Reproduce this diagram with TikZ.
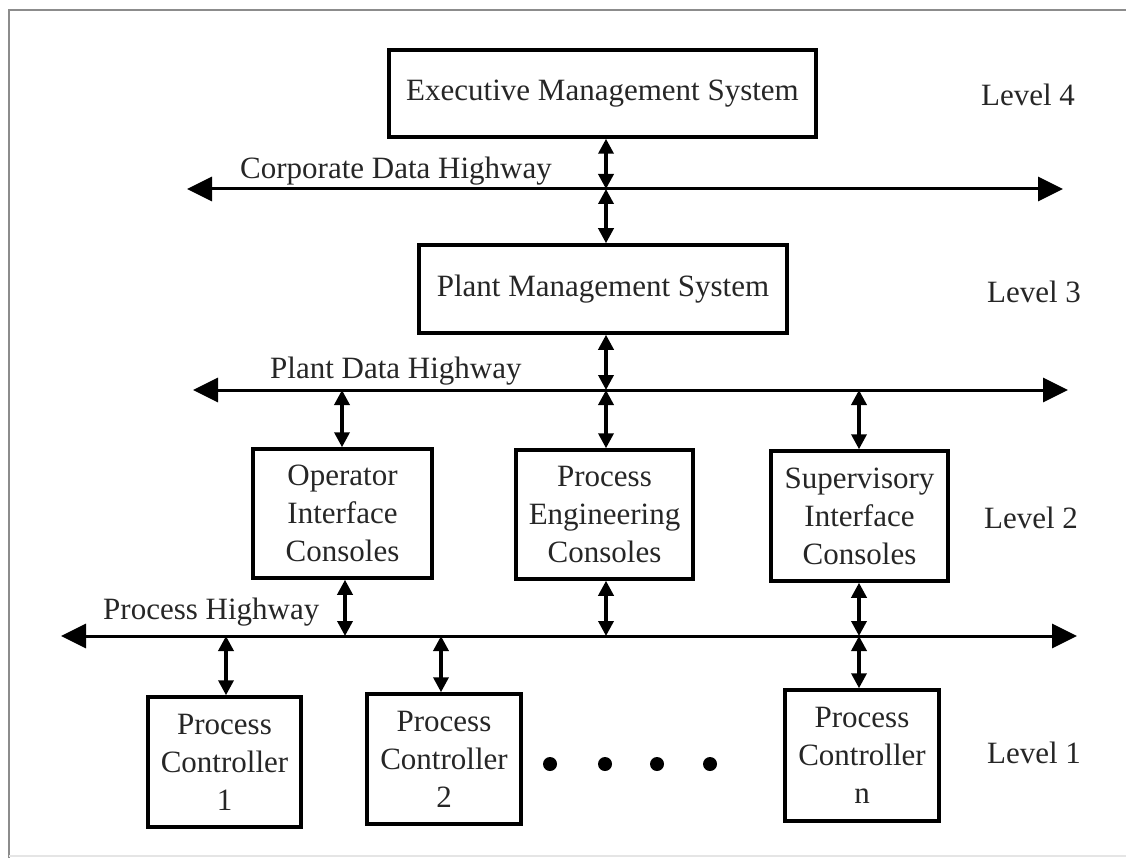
\documentclass[tikz,border=0pt]{standalone}
\usepackage{fontspec}
\setmainfont{Liberation Serif}
\usetikzlibrary{arrows.meta}
\begin{document}
\begin{tikzpicture}[x=1pt,y=-1pt,
  box/.style={draw=black,line width=3.5pt,inner sep=0pt,align=center,
    font=\fontsize{31}{38}\selectfont,text=black!85},
  lbl/.style={font=\fontsize{31}{38}\selectfont,text=black!85,inner sep=0pt},
  hw/.style={line width=3pt,{Triangle[length=25pt,width=24pt]}-{Triangle[length=25pt,width=24pt]}},
  conn/.style={line width=3.5pt,{Triangle[length=15pt,width=15pt]}-{Triangle[length=15pt,width=15pt]}},
  frame/.style={draw=black!45,line width=2pt}]
\useasboundingbox (0,0) rectangle (1126,858);
% frame
\draw[frame] (9,858) -- (9,10) -- (1126,10);
\draw[draw=black!10,line width=2pt] (9,856) -- (1126,856);
% boxes
\node[box,minimum width=427pt,minimum height=87pt] (exec) at (602.5,93.5) {Executive Management System};
\node[box,minimum width=368pt,minimum height=88pt] (plant) at (603,289) {Plant Management System};
\node[box,minimum width=179pt,minimum height=129pt] (op) at (342.5,513.5) {Operator\\Interface\\Consoles};
\node[box,minimum width=177pt,minimum height=129pt] (pe) at (604.5,514.5) {Process\\Engineering\\Consoles};
\node[box,minimum width=177pt,minimum height=130pt] (sup) at (859.5,516) {Supervisory\\Interface\\Consoles};
\node[box,minimum width=153pt,minimum height=130pt] (pc1) at (224.5,762) {Process\\Controller\\1};
\node[box,minimum width=154pt,minimum height=130pt] (pc2) at (444,759) {Process\\Controller\\2};
\node[box,minimum width=154pt,minimum height=131pt] (pcn) at (862,755.5) {Process\\Controller\\n};
% level labels
\node[lbl] (l4) at (1028,95) {Level 4};
\node[lbl] (l3) at (1034,292) {Level 3};
\node[lbl] (l2) at (1031,518) {Level 2};
\node[lbl] (l1) at (1034,753) {Level 1};
% highway coordinates
\coordinate (cL) at (187,189);
\coordinate (cR) at (1063,189);
\coordinate (cM) at (606,189);
\coordinate (pL) at (193,390);
\coordinate (pR) at (1068,390);
\coordinate (pO) at (342,390);
\coordinate (pM) at (606,390);
\coordinate (pS) at (859,390);
\coordinate (qL) at (61,636);
\coordinate (qR) at (1077,636);
\coordinate (qO) at (345,636);
\coordinate (qE) at (606,636);
\coordinate (qS) at (859,636);
\coordinate (q1) at (226,636);
\coordinate (q2) at (441,636);
% highways
\draw[hw] (cL) -- (cR);
\draw[hw] (pL) -- (pR);
\draw[hw] (qL) -- (qR);
\node[lbl,anchor=base west] (tc) at (240,179) {Corporate Data Highway};
\node[lbl,anchor=base west] (tp) at (270,378) {Plant Data Highway};
\node[lbl,anchor=base west] (tq) at (103,619) {Process Highway};
% connectors
\draw[conn] (cM |- exec.south) -- (cM);
\draw[conn] (cM) -- (cM |- plant.north);
\draw[conn] (pM |- plant.south) -- (pM);
\draw[conn] (pO) -- (pO |- op.north);
\draw[conn] (pM) -- (pM |- pe.north);
\draw[conn] (pS) -- (pS |- sup.north);
\draw[conn] (qO |- op.south) -- (qO);
\draw[conn] (qE |- pe.south) -- (qE);
\draw[conn] (qS |- sup.south) -- (qS);
\draw[conn] (qS) -- (qS |- pcn.north);
\draw[conn] (q1) -- (q1 |- pc1.north);
\draw[conn] (q2) -- (q2 |- pc2.north);
% dots
\foreach \dx [count=\i] in {550,605,657,710}
  \fill[black] (\dx,764) circle[radius=7pt] coordinate (dot\i);
\end{tikzpicture}
\end{document}
